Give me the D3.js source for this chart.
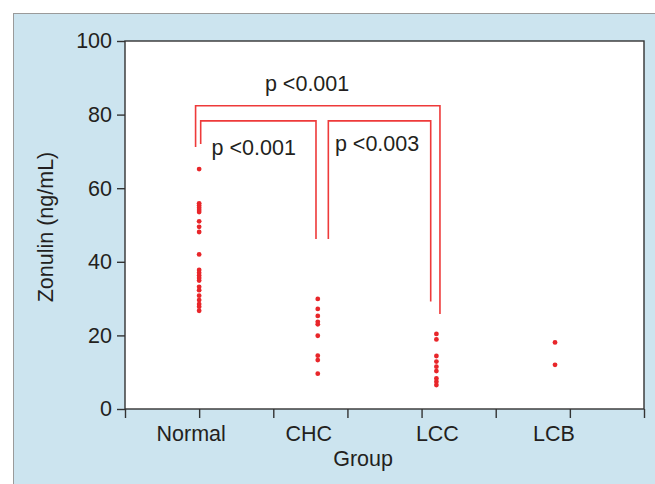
<!DOCTYPE html>
<html>
<head>
<meta charset="utf-8">
<script src="https://cdn.jsdelivr.net/npm/d3@7"></script>
<style>
  body { margin: 0; background: #fff; }
  text { font-family: "Liberation Sans", Arial, sans-serif; fill: #231f20; }
</style>
</head>
<body>
<svg id="chart"></svg>
<script>
// Data
const groups = ['Normal', 'CHC', 'LCC', 'LCB'];
const normalValues = [65.2, 55.9, 55.3, 54.7, 54.1, 53.5, 51.0, 49.5, 48.1, 42.0, 37.8, 37.0, 36.3, 35.6, 34.9, 33.2, 32.3, 30.8, 29.6, 28.5, 27.8, 26.7];
const chcValues = [29.9, 27.2, 25.3, 23.7, 23.0, 19.9, 14.5, 13.3, 9.6];
const lccValues = [20.4, 18.9, 14.4, 12.9, 11.5, 10.3, 8.3, 7.4, 6.5];
const lcbValues = [18.1, 12.0];
const yTicks = [0, 20, 40, 60, 80, 100];
const comparisons = [
  { a: 1, b: 3, label: 'p <0.001' },
  { a: 1, b: 2, label: 'p <0.001' },
  { a: 2, b: 3, label: 'p <0.003' }
];

const seriesValues = [normalValues, chcValues, lccValues, lcbValues];
const points = seriesValues.flatMap((vals, i) => vals.map((v) => ({ g: i + 1, v })));

const width = 655;
const height = 484;
const marginTop = 41;
const marginRight = 11;
const marginBottom = 75;
const marginLeft = 125;
const fontSize = 21.5;

const svg = d3.select('#chart')
  .attr('width', width)
  .attr('height', height)
  .attr('viewBox', [0, 0, width, height]);

// Light blue panel behind the figure
svg.append('rect')
  .attr('x', 13.5).attr('y', 13.5)
  .attr('width', width).attr('height', height)
  .attr('fill', '#cce4ef')
  .attr('stroke', '#9a9a9a')
  .attr('stroke-width', 1);

const x = d3.scaleLinear()
  .domain([0.375, 4.75])
  .range([marginLeft, width - marginRight]);

const y = d3.scaleLinear()
  .domain([0, 100])
  .range([height - marginBottom, marginTop]);

// Plot frame
svg.append('rect')
  .attr('x', x.range()[0]).attr('y', y(100))
  .attr('width', x.range()[1] - x.range()[0])
  .attr('height', y(0) - y(100))
  .attr('fill', '#fff')
  .attr('stroke', '#333')
  .attr('stroke-width', 1.4);

// x-axis: evenly spaced ticks, group labels under each group
svg.append('g')
  .attr('transform', `translate(0,${y(0)})`)
  .call(d3.axisBottom(x).tickValues(d3.range(0.375, 4.76, 0.625)).tickSize(9).tickFormat(''))
  .call((g) => g.select('.domain').remove())
  .call((g) => g.selectAll('line').attr('stroke', '#333').attr('stroke-width', 1.4));

const labelShift = [-8, -9, 1, -1];
svg.append('g')
  .selectAll('text')
  .data(groups)
  .join('text')
  .attr('x', (d, i) => x(i + 1) + labelShift[i])
  .attr('y', y(0) + 32)
  .attr('text-anchor', 'middle')
  .attr('font-size', fontSize)
  .text((d) => d);

svg.append('text')
  .attr('x', x(2.5) - 14)
  .attr('y', y(0) + 57)
  .attr('text-anchor', 'middle')
  .attr('font-size', fontSize)
  .text('Group');

// y-axis
svg.append('g')
  .attr('transform', `translate(${marginLeft},0)`)
  .call(d3.axisLeft(y).tickValues(yTicks).tickSize(8).tickPadding(5))
  .call((g) => g.select('.domain').remove())
  .call((g) => g.selectAll('line').attr('stroke', '#333').attr('stroke-width', 1.4))
  .call((g) => g.selectAll('text').attr('font-size', fontSize).attr('fill', '#231f20'));

svg.append('text')
  .attr('transform', `translate(46,${(y(0) + y(100)) / 2 + 2}) rotate(-90)`)
  .attr('text-anchor', 'middle')
  .attr('dominant-baseline', 'central')
  .attr('font-size', fontSize)
  .text('Zonulin (ng/mL)');

// Points
svg.append('g')
  .attr('fill', '#e8262a')
  .selectAll('circle')
  .data(points)
  .join('circle')
  .attr('cx', (d) => x(d.g))
  .attr('cy', (d) => y(d.v))
  .attr('r', 2.4);

// Significance brackets
const bracket = (c, dxa, dxb, top, ya, yb) => {
  const path = d3.path();
  path.moveTo(x(c.a + dxa), y(ya));
  path.lineTo(x(c.a + dxa), y(top));
  path.lineTo(x(c.b + dxb), y(top));
  path.lineTo(x(c.b + dxb), y(yb));
  return path.toString();
};
const bracketGeom = [
  [-0.03, 0.03, 82.4, 71.2, 25.8],
  [0.013, -0.015, 78.3, 72.0, 46.2],
  [0.089, -0.048, 78.3, 46.2, 29.2]
];
const labelPos = [
  [1.91, 86.5],
  [1.46, 69.0],
  [2.5, 70.0]
];

svg.append('g')
  .attr('fill', 'none')
  .attr('stroke', '#ee3a3a')
  .attr('stroke-width', 1.6)
  .selectAll('path')
  .data(comparisons)
  .join('path')
  .attr('d', (c, i) => bracket(c, ...bracketGeom[i]));

svg.append('g')
  .selectAll('text')
  .data(comparisons)
  .join('text')
  .attr('x', (c, i) => x(labelPos[i][0]))
  .attr('y', (c, i) => y(labelPos[i][1]))
  .attr('text-anchor', 'middle')
  .attr('font-size', fontSize)
  .text((c) => c.label);
</script>
</body>
</html>
